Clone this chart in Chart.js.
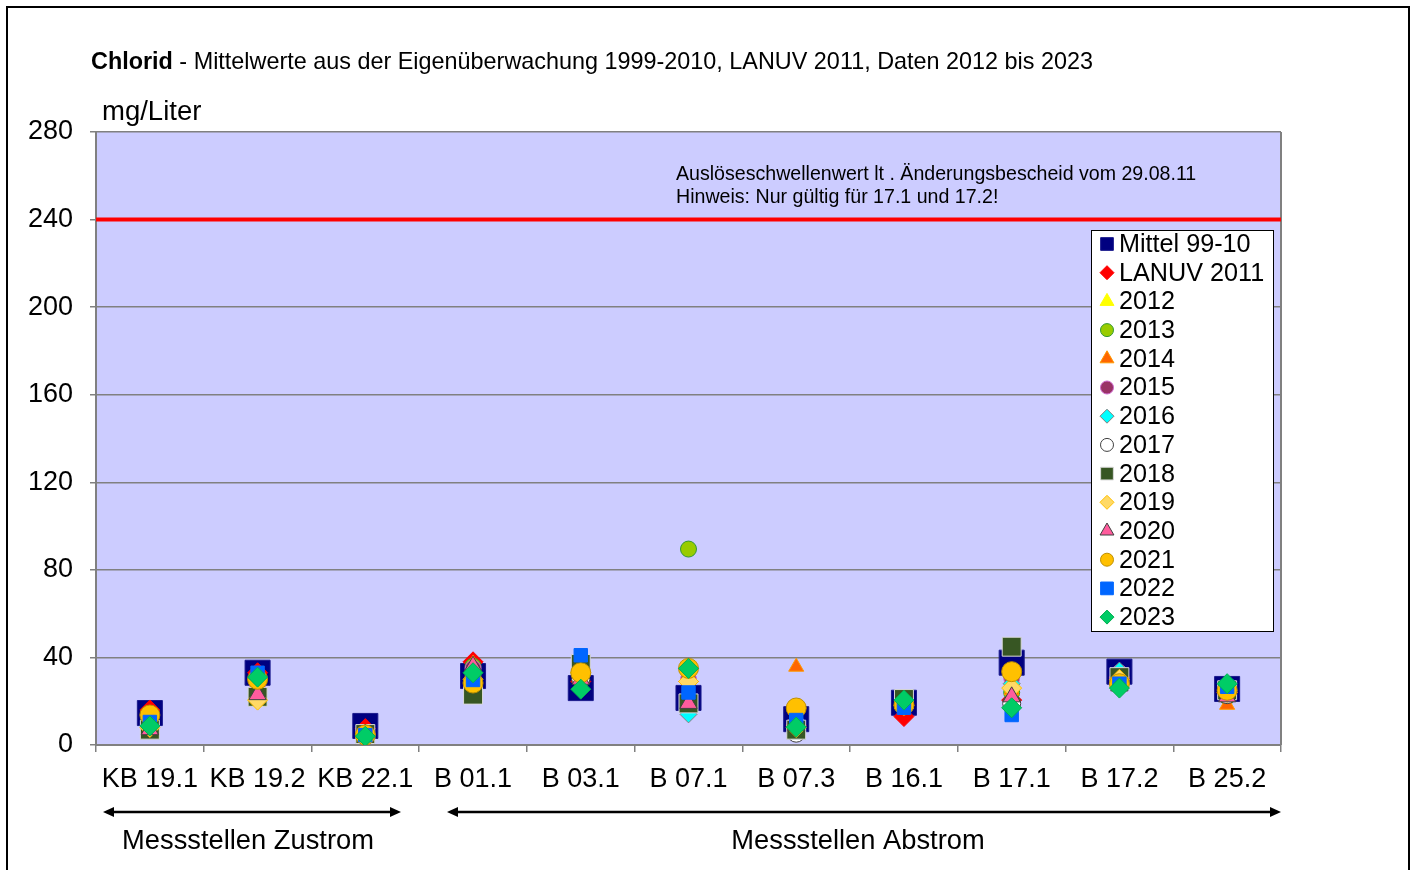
<!DOCTYPE html>
<html><head><meta charset="utf-8">
<script src="https://cdn.jsdelivr.net/npm/chart.js@4"></script>
<style>html,body{margin:0;padding:0;background:#fff}canvas{display:block}</style>
</head><body>
<canvas id="c" width="1416" height="870" style="width:1416px;height:870px"></canvas>
<script>
// ---------- DATA ----------
const categories = ['KB 19.1','KB 19.2','KB 22.1','B 01.1','B 03.1','B 07.1','B 07.3','B 16.1','B 17.1','B 17.2','B 25.2'];
const yTickValues = [0,40,80,120,160,200,240,280];
const thresholdValue = 240;
const seriesNames = ['Mittel 99-10','LANUV 2011','2012','2013','2014','2015','2016','2017','2018','2019','2020','2021','2022','2023'];
const mittel9910 = [14.6, 33, 8.7, 31.5, 26, 21.5, 11.8, 19.3, 37.6, 33.5, 25.6];
const lanuv2011  = [16, 33, 7.5, 38, 29, 29, 9, 13, 20.5, 31, 24];
const y2012 = [12, 22, 5, 37, 30, 30, 10, 18, 25, 30, 24];
const y2013 = [10, 25, 5, 36, 32, 89.5, 10, 18, 24, 30, 22];
const y2014 = [11, 24, 5, 37, 30, 30, 35.7, 18, 25, 31, 18.3];
const y2015 = [10, 26, 5, 35, 30, 30, 10, 18, 30.6, 33, 24];
const y2016 = [9, 30, 5, 33, 30, 14, 9, 18, 28, 34, 25];
const y2017 = [8, 22, 5, 30, 30, 20, 5.4, 18, 19, 30, 23];
const y2018 = [7, 22, 5, 23, 37, 19, 7, 21, 44.9, 31, 25];
const y2019 = [8, 20.5, 5, 30, 33, 29, 8, 18, 26, 30, 24];
const y2020 = [7, 23, 5, 36, 30, 19, 9, 18, 22, 27, 22];
const y2021 = [13.7, 30, 4.6, 28.3, 33, 35, 16.9, 18.3, 33.5, 28, 25];
const y2022 = [10.5, 33, 4.5, 29.7, 41, 24, 11.4, 17, 13.7, 28, 26.6];
const y2023 = [8.7, 31, 4, 33, 25.5, 35, 8.2, 20.5, 17, 26, 28];
const seriesValues = [mittel9910, lanuv2011, y2012, y2013, y2014, y2015, y2016, y2017, y2018, y2019, y2020, y2021, y2022, y2023];

// ---------- STYLES ----------
const styles = [
  {shape:'rect',     r:17.7, fill:'#000080', stroke:'#1a1a8c', lr:9},
  {shape:'rectRot',  r:10,   fill:'#FF0000', stroke:'#FF0000', lr:7},
  {shape:'triangle', r:8,    fill:'#FFFF00', stroke:'#FFFF00', lr:8},
  {shape:'circle',   r:8,    fill:'#99CC00', stroke:'#339933', lr:6.5},
  {shape:'triangle', r:8.7,  fill:'#FF6600', stroke:'#FF9900', lr:8},
  {shape:'circle',   r:8,    fill:'#993366', stroke:'#CC66CC', lr:6.5},
  {shape:'rectRot',  r:8.5,  fill:'#00FFFF', stroke:'#7f7f7f', lr:7},
  {shape:'circle',   r:9,    fill:'#FFFFFF', stroke:'#404040', lr:6.5},
  {shape:'rect',     r:13.4, fill:'#375623', stroke:'#D9D9D9', lr:9},
  {shape:'rectRot',  r:10,   fill:'#FFD966', stroke:'#FFC000', lr:7},
  {shape:'triangle', r:10,   fill:'#FF5C9D', stroke:'#404040', lr:8},
  {shape:'circle',   r:10,   fill:'#FFC000', stroke:'#BF9000', lr:6.5},
  {shape:'rect',     r:9.5,  fill:'#0066FF', stroke:'#0066FF', lr:9},
  {shape:'rectRot',  r:10,   fill:'#00CC66', stroke:'#00B050', lr:7}
];
const FONT = '"Liberation Sans", Arial, sans-serif';

const datasets = seriesNames.map((name, i) => ({
  label: name,
  data: seriesValues[i],
  showLine: false,
  pointStyle: styles[i].shape,
  pointRadius: styles[i].r,
  pointHoverRadius: styles[i].r,
  pointBackgroundColor: styles[i].fill,
  pointBorderColor: styles[i].stroke,
  pointBorderWidth: 1,
  order: seriesNames.length - i
}));

function marker(ctx, shape, x, y, r, fill, stroke) {
  ctx.beginPath();
  if (shape === 'rect') {
    const s = r * Math.SQRT1_2;
    ctx.rect(x - s, y - s, 2*s, 2*s);
  } else if (shape === 'rectRot') {
    ctx.moveTo(x - r, y); ctx.lineTo(x, y - r); ctx.lineTo(x + r, y); ctx.lineTo(x, y + r); ctx.closePath();
  } else if (shape === 'triangle') {
    for (let k = 0; k < 3; k++) {
      const a = k * 2 * Math.PI / 3;
      const px = x + Math.sin(a) * r, py = y - Math.cos(a) * r;
      k ? ctx.lineTo(px, py) : ctx.moveTo(px, py);
    }
    ctx.closePath();
  } else {
    ctx.arc(x, y, r, 0, Math.PI * 2);
  }
  ctx.fillStyle = fill; ctx.fill();
  ctx.lineWidth = 1; ctx.strokeStyle = stroke; ctx.stroke();
}

function arrow(ctx, x1, x2, y) {
  ctx.strokeStyle = '#000'; ctx.fillStyle = '#000'; ctx.lineWidth = 2.5;
  ctx.beginPath(); ctx.moveTo(x1 + 6, y); ctx.lineTo(x2 - 6, y); ctx.stroke();
  ctx.beginPath(); ctx.moveTo(x1, y); ctx.lineTo(x1 + 11, y - 5); ctx.lineTo(x1 + 11, y + 5); ctx.closePath(); ctx.fill();
  ctx.beginPath(); ctx.moveTo(x2, y); ctx.lineTo(x2 - 11, y - 5); ctx.lineTo(x2 - 11, y + 5); ctx.closePath(); ctx.fill();
}

const decor = {
  id: 'decor',
  beforeDraw(chart) {
    const {ctx, chartArea: a} = chart;
    ctx.save();
    ctx.fillStyle = '#fff'; ctx.fillRect(0, 0, chart.width, chart.height);
    ctx.fillStyle = '#CCCCFF'; ctx.fillRect(a.left, a.top, a.right - a.left, a.bottom - a.top);
    ctx.restore();
  },
  beforeDatasetsDraw(chart) {
    const {ctx, chartArea: a, scales} = chart;
    ctx.save();
    ctx.strokeStyle = '#808080'; ctx.lineWidth = 2;
    ctx.beginPath(); ctx.moveTo(a.right, a.top); ctx.lineTo(a.right, a.bottom); ctx.stroke();
    const ty = scales.y.getPixelForValue(thresholdValue);
    ctx.strokeStyle = '#FF0000'; ctx.lineWidth = 4;
    ctx.beginPath(); ctx.moveTo(a.left, ty); ctx.lineTo(a.right, ty); ctx.stroke();
    ctx.fillStyle = '#000'; ctx.font = '19.6px ' + FONT; ctx.textBaseline = 'middle'; ctx.textAlign = 'left';
    ctx.fillText('Auslöseschwellenwert lt . Änderungsbescheid vom 29.08.11', 676, 175);
    ctx.fillText('Hinweis: Nur gültig für 17.1 und 17.2!', 676, 197.5);
    ctx.restore();
  },
  afterDraw(chart) {
    const {ctx} = chart;
    ctx.save();
    ctx.strokeStyle = '#000'; ctx.lineWidth = 2;
    ctx.strokeRect(7, 7, 1402, 880);
    ctx.fillStyle = '#000'; ctx.textBaseline = 'middle'; ctx.textAlign = 'left';
    ctx.font = 'bold 23.4px ' + FONT;
    ctx.fillText('Chlorid', 91, 62.5);
    const w = ctx.measureText('Chlorid').width;
    ctx.font = '23.4px ' + FONT;
    ctx.fillText(' - Mittelwerte aus der Eigenüberwachung 1999-2010, LANUV 2011, Daten 2012 bis 2023', 91 + w, 62.5);
    ctx.font = '27.5px ' + FONT;
    ctx.fillText('mg/Liter', 102, 112);
    arrow(ctx, 103, 401, 812);
    arrow(ctx, 447, 1281, 812);
    ctx.textAlign = 'center';
    ctx.font = '27.3px ' + FONT;
    ctx.fillText('Messstellen Zustrom', 248, 841);
    ctx.fillText('Messstellen Abstrom', 858, 841);
    const lx = 1091, ly = 230, lw = 182, lh = 401;
    ctx.fillStyle = '#fff'; ctx.fillRect(lx, ly, lw, lh);
    ctx.strokeStyle = '#000'; ctx.lineWidth = 1; ctx.strokeRect(lx + 0.5, ly + 0.5, lw, lh);
    ctx.font = '25.2px ' + FONT; ctx.textAlign = 'left';
    seriesNames.forEach((name, i) => {
      const yy = 244 + i * 28.7;
      const st = styles[i];
      marker(ctx, st.shape, 1107, yy, st.lr, st.fill, st.stroke);
      ctx.fillStyle = '#000';
      ctx.fillText(name, 1119, yy + 1);
    });
    ctx.restore();
  }
};

new Chart(document.getElementById('c'), {
  type: 'line',
  data: { labels: categories, datasets },
  options: {
    responsive: false,
    animation: false,
    devicePixelRatio: 1,
    layout: { padding: { left: 0, top: 132, right: 135, bottom: 0 } },
    plugins: { legend: { display: false }, tooltip: { enabled: false }, title: { display: false } },
    scales: {
      x: {
        type: 'category',
        offset: true,
        afterFit: s => { s.height = 125; },
        grid: { offset: true, drawOnChartArea: false, drawTicks: true, tickLength: 7, color: '#808080', lineWidth: 1.5 },
        border: { color: '#808080', width: 2 },
        ticks: { autoSkip: false, maxRotation: 0, color: '#000', font: { family: FONT, size: 27 }, padding: 11 }
      },
      y: {
        min: 0, max: 280,
        afterFit: s => { s.width = 96; },
        afterBuildTicks: s => { s.ticks = yTickValues.map(v => ({ value: v })); },
        grid: { color: '#808080', lineWidth: 1.5, tickLength: 6 },
        border: { color: '#808080', width: 2 },
        ticks: { color: '#000', font: { family: FONT, size: 27 }, padding: 17 }
      }
    }
  },
  plugins: [decor]
});
</script>
</body></html>
